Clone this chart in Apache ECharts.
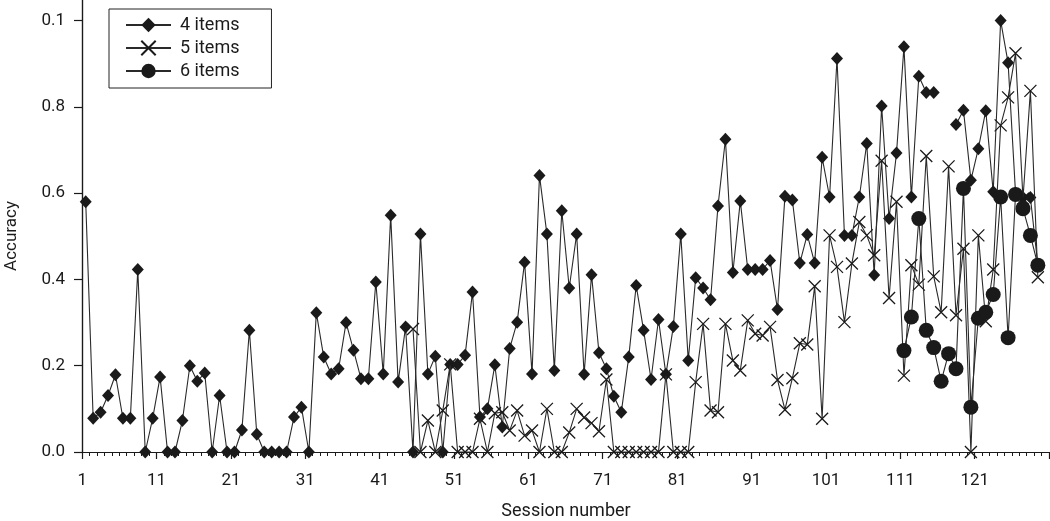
<!DOCTYPE html>
<html><head><meta charset="utf-8">
<script src="https://cdn.jsdelivr.net/npm/echarts@6/dist/echarts.min.js"></script>
<style>html,body{margin:0;padding:0;background:#fff}#c{width:1050px;height:521px}</style>
</head><body><div id="c"></div>
<script>
// ---- data ----
const sessionCount = 130;
const sessions = Array.from({length: sessionCount}, (_, i) => String(i + 1));
const yTickValues = [0, 0.2, 0.4, 0.6, 0.8, 1.0];
const yTickLabels = ['0.0', '0.2', '0.4', '0.6', '0.8', '0.1'];
const seriesNames = ['4 items', '5 items', '6 items'];
const xTitle = 'Session number';
const yTitle = 'Accuracy';

const items4Start = 1;
const items4 = [0.58,0.078,0.092,0.131,0.179,0.078,0.078,0.423,0,0.078,
 0.174,0,0,0.073,0.2,0.164,0.183,0,0.131,0,
 0,0.051,0.282,0.041,0,0,0,0,0.081,0.104,
 0,0.323,0.22,0.181,0.193,0.3,0.236,0.17,0.17,0.394,
 0.181,0.549,0.162,0.29,0,0.505,0.181,0.222,0,0.203,
 0.203,0.224,0.371,0.081,0.1,0.202,0.058,0.24,0.301,0.44,
 0.181,0.641,0.505,0.189,0.559,0.38,0.505,0.18,0.411,0.23,
 0.193,0.129,0.092,0.22,0.386,0.282,0.168,0.307,0.18,0.291,
 0.505,0.212,0.404,0.38,0.353,0.57,0.725,0.416,0.582,0.423,
 0.423,0.423,0.444,0.33,0.593,0.584,0.438,0.504,0.438,0.683,
 0.591,0.912,0.502,0.502,0.591,0.715,0.41,0.802,0.541,0.693,
 0.939,0.591,0.871,0.833,0.833,null,null,0.759,0.792,0.63,
 0.703,0.791,0.603,1.0,0.902,0.6,0.59,0.59,0.433];

const items5Start = 45;
const items5 = [0.285,0,0.073,0,0.096,0.203,0,0,0,0.077,
 0,0.09,0.092,0.05,0.096,0.038,0.05,0,0.1,0,
 0,0.045,0.1,0.08,0.067,0.048,0.168,0,0,0,
 0,0,0,0,0.18,0,0,0,0.162,0.297,
 0.096,0.092,0.297,0.212,0.189,0.305,0.274,0.27,0.29,0.167,
 0.098,0.171,0.252,0.249,0.384,0.077,0.502,0.429,0.301,0.437,
 0.533,0.502,0.456,0.675,0.357,0.58,0.177,0.433,0.388,0.686,
 0.407,0.324,0.662,0.317,0.471,0,0.502,0.303,0.423,0.757,
 0.822,0.924,0.587,0.837,0.405];

const items6Start = 111;
const items6 = [0.235,0.313,0.541,0.282,0.242,0.164,0.228,0.193,0.611,0.104,
 0.31,0.324,0.365,0.591,0.265,0.597,0.564,0.502,0.433];

// ---- build ----
function place(start, vals) {
  const out = new Array(sessionCount).fill(null);
  vals.forEach((v, i) => { out[start - 1 + i] = v; });
  return out;
}
const FONT = 'Roboto';
const INK = '#1a1a1a';
const LINE = '#2a2a2a';
const crossPath = 'path://M0,0L10,10M0,10L10,0';
const GRID_LEFT = 82, GRID_BOTTOM = 69, H = 521;

const chart = echarts.init(document.getElementById('c'), null, {renderer: 'canvas'});
chart.setOption({
  animation: false,
  backgroundColor: '#fff',
  textStyle: {fontFamily: FONT},
  grid: {left: GRID_LEFT, right: 1, top: 0, bottom: GRID_BOTTOM, containLabel: false},
  legend: {
    data: seriesNames,
    orient: 'vertical',
    left: 109, top: 9,
    borderColor: '#222', borderWidth: 1,
    padding: [7, 32, 8, 16],
    itemWidth: 45, itemHeight: 18, itemGap: 5,
    textStyle: {fontSize: 18, fontFamily: FONT, color: INK, padding: [0, 0, 0, 4]}
  },
  graphic: [
    {type: 'line', z: 5, silent: true,
     shape: {x1: GRID_LEFT + 0.5, y1: 0, x2: GRID_LEFT + 0.5, y2: H - GRID_BOTTOM},
     style: {stroke: INK, lineWidth: 1.2}},
    {type: 'text', x: 566, y: 511, z: 10,
     style: {text: xTitle, font: '18px Roboto', fill: INK,
             textAlign: 'center', textVerticalAlign: 'middle', align: 'center', verticalAlign: 'middle'}},
    {type: 'text', x: 12, y: 236, rotation: Math.PI / 2, z: 10,
     style: {text: yTitle, font: '17px Roboto', fill: INK,
             textAlign: 'center', textVerticalAlign: 'middle', align: 'center', verticalAlign: 'middle'}}
  ],
  xAxis: [
    {
      type: 'category', data: sessions, boundaryGap: true, position: 'bottom',
      axisLine: {show: true, onZero: false, lineStyle: {color: INK, width: 1.2}},
      axisTick: {show: true, interval: 0, length: 4, lineStyle: {color: INK, width: 1}},
      axisLabel: {interval: 9, fontSize: 17, color: INK, margin: 20, padding: [0, 7, 0, 0], fontFamily: FONT},
      splitLine: {show: false}
    },
    {
      type: 'category', data: sessions, boundaryGap: true, position: 'bottom',
      axisLine: {show: false, onZero: false},
      axisTick: {show: true, interval: 9, length: 7, lineStyle: {color: INK, width: 1.2}},
      axisLabel: {show: false},
      splitLine: {show: false}
    }
  ],
  yAxis: {
    type: 'value', min: 0, max: 1.0476, position: 'left',
    axisLine: {show: true, onZero: false, lineStyle: {color: INK, width: 1.2}},
    axisTick: {show: true, length: 8, customValues: yTickValues, lineStyle: {color: INK, width: 1.2}},
    axisLabel: {fontSize: 17, color: INK, margin: 17, fontFamily: FONT, customValues: yTickValues,
      formatter: v => {
        const i = yTickValues.findIndex(t => Math.abs(t - v) < 1e-6);
        return i >= 0 ? yTickLabels[i] : '';
      }},
    splitLine: {show: false}
  },
  series: [
    {
      name: seriesNames[0], type: 'line', xAxisIndex: 0,
      data: place(items4Start, items4),
      symbol: 'diamond', symbolSize: [12, 13], showAllSymbol: true,
      itemStyle: {color: INK}, lineStyle: {color: LINE, width: 1.1}, z: 2
    },
    {
      name: seriesNames[1], type: 'line', xAxisIndex: 0,
      data: place(items5Start, items5),
      symbol: crossPath, symbolSize: 12, symbolKeepAspect: true, showAllSymbol: true,
      itemStyle: {color: INK, borderColor: INK, borderWidth: 1.3}, lineStyle: {color: LINE, width: 1.1}, z: 3
    },
    {
      name: seriesNames[2], type: 'line', xAxisIndex: 0,
      data: place(items6Start, items6),
      symbol: 'circle', symbolSize: 15, showAllSymbol: true,
      itemStyle: {color: INK}, lineStyle: {color: LINE, width: 1.1}, z: 4
    }
  ]
});
</script></body></html>
